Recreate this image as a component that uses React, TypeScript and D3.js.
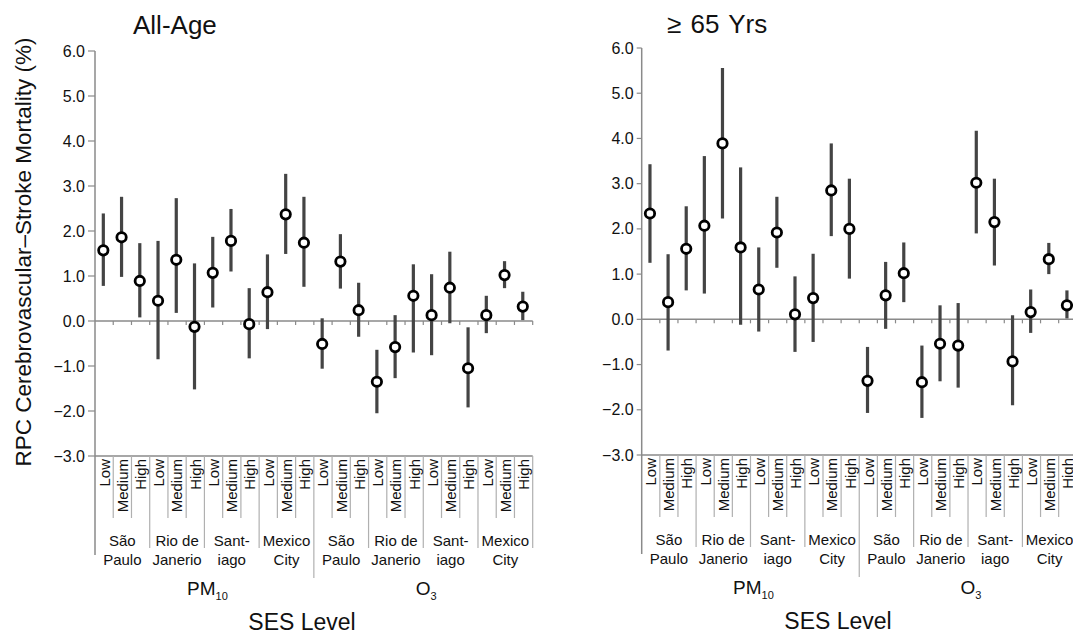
import React from "react";
import * as d3 from "d3";

const sesLevels = ["Low", "Medium", "High"];
const cities = ["São Paulo", "Rio de Janerio", "Santiago", "Mexico City"];
const cityLines = [["São", "Paulo"], ["Rio de", "Janerio"], ["Sant-", "iago"], ["Mexico", "City"]];
const pollutants = ["PM10", "O3"];
const yTicks = [6, 5, 4, 3, 2, 1, 0, -1, -2, -3];

// All-Age: estimate, lower, upper (PM10 x 4 cities x 3 SES, then O3)
const allAgeEst = [1.57, 1.86, 0.89, 0.45, 1.36, -0.13, 1.07, 1.78, -0.07, 0.64, 2.37, 1.74,
  -0.51, 1.32, 0.24, -1.35, -0.58, 0.56, 0.13, 0.74, -1.05, 0.13, 1.02, 0.32];
const allAgeLow = [0.78, 0.98, 0.08, -0.85, 0.18, -1.52, 0.3, 1.1, -0.83, -0.18, 1.49, 0.76,
  -1.06, 0.72, -0.35, -2.05, -1.27, -0.7, -0.76, -0.05, -1.92, -0.27, 0.73, 0.02];
const allAgeHigh = [2.39, 2.76, 1.73, 1.78, 2.73, 1.28, 1.87, 2.49, 0.73, 1.48, 3.27, 2.76,
  0.06, 1.93, 0.85, -0.64, 0.13, 1.26, 1.04, 1.54, -0.14, 0.56, 1.33, 0.65];

// >= 65 years
const elderEst = [2.34, 0.38, 1.56, 2.07, 3.89, 1.59, 0.66, 1.92, 0.11, 0.47, 2.85, 2.0,
  -1.36, 0.53, 1.02, -1.39, -0.54, -0.58, 3.02, 2.15, -0.93, 0.16, 1.33, 0.31];
const elderLow = [1.25, -0.69, 0.64, 0.57, 2.23, -0.12, -0.27, 1.14, -0.72, -0.5, 1.84, 0.9,
  -2.07, -0.21, 0.38, -2.18, -1.37, -1.51, 1.9, 1.19, -1.9, -0.3, 1.0, 0.02];
const elderHigh = [3.43, 1.44, 2.5, 3.61, 5.56, 3.36, 1.59, 2.71, 0.95, 1.45, 3.89, 3.11,
  -0.61, 1.27, 1.7, -0.58, 0.31, 0.36, 4.17, 3.11, 0.09, 0.66, 1.69, 0.64];

const FONT = "'Liberation Sans', Arial, Helvetica, sans-serif";
const axisColor = "#8a8a8a";
const sepColor = "#b0b0b0";

type PanelProps = {
  title: string;
  titleX: number;
  titleY: number;
  x0: number;
  x1: number;
  yTop: number;
  yBottom: number;
  tickLen: number;
  sesX: number;
  est: number[];
  lo: number[];
  hi: number[];
};

function Panel(p: PanelProps) {
  const keys = pollutants.flatMap((pol) =>
    cities.flatMap((c) => sesLevels.map((s) => `${pol}|${c}|${s}`))
  );
  const x = d3.scaleBand().domain(keys).range([p.x0, p.x1]);
  const y = d3.scaleLinear().domain([-3, 6]).range([p.yBottom, p.yTop]);
  const fmt = d3.format(".1f");
  const bw = x.bandwidth();
  const base = y(-3);
  const boundaries = keys.map((k) => x(k) as number).concat([p.x1]);

  return (
    <g fontFamily={FONT}>
      <text x={p.titleX} y={p.titleY} fontSize={26} fill="#111" wordSpacing={2}>
        {p.title}
      </text>

      {/* y axis */}
      <line x1={p.x0} x2={p.x0} y1={y(6)} y2={base} stroke={axisColor} strokeWidth={1.5} />
      {yTicks.map((t) => (
        <g key={t}>
          <line x1={p.x0 - p.tickLen} x2={p.x0} y1={y(t)} y2={y(t)} stroke={axisColor} strokeWidth={1.2} />
          <text x={p.x0 - p.tickLen - 3} y={y(t)} dy="0.35em" textAnchor="end" fontSize={16} fill="#111">
            {fmt(t)}
          </text>
        </g>
      ))}

      {/* zero line with ticks */}
      <line x1={p.x0} x2={p.x1} y1={y(0)} y2={y(0)} stroke={axisColor} strokeWidth={1.5} />
      {boundaries.slice(1).map((bx, i) => (
        <line key={i} x1={bx} x2={bx} y1={y(0)} y2={y(0) + 4} stroke={axisColor} strokeWidth={1.2} />
      ))}

      {/* bottom category box */}
      <line x1={p.x0} x2={p.x1} y1={base} y2={base} stroke={axisColor} strokeWidth={1.5} />
      {boundaries.map((bx, i) => {
        let y2 = base + 62;
        if (i === 0) y2 = base + 99;
        else if (i === 12) y2 = base + 122;
        else if (i % 3 === 0) y2 = base + 92;
        return <line key={i} x1={bx} x2={bx} y1={base} y2={y2} stroke={i === 0 ? axisColor : sepColor} strokeWidth={i === 0 ? 1.5 : 1.2} />;
      })}
      {keys.map((k, i) => {
        const cx = (x(k) as number) + bw / 2;
        return (
          <text key={k} transform={`translate(${cx},${base + 3}) rotate(-90)`} dy="0.36em"
            textAnchor="end" fontSize={15} fill="#111">
            {sesLevels[i % 3]}
          </text>
        );
      })}

      {/* city labels */}
      {keys.filter((_, i) => i % 3 === 0).map((k, gi) => {
        const cx = (x(k) as number) + 1.5 * bw;
        const lines = cityLines[gi % 4];
        return (
          <text key={k} x={cx} textAnchor="middle" fontSize={15} fill="#111">
            <tspan x={cx} y={base + 90}>{lines[0]}</tspan>
            <tspan x={cx} y={base + 109}>{lines[1]}</tspan>
          </text>
        );
      })}

      {/* pollutant labels */}
      {pollutants.map((pol, pi) => {
        const cx = (x(keys[pi * 12]) as number) + 6 * bw;
        const main = pol === "PM10" ? "PM" : "O";
        const sub = pol === "PM10" ? "10" : "3";
        return (
          <text key={pol} x={cx + 3} y={base + 139} textAnchor="middle" fontSize={19} fill="#111">
            {main}
            <tspan fontSize={11} dy={5}>{sub}</tspan>
          </text>
        );
      })}

      <text x={p.sesX} y={base + 174} textAnchor="middle" fontSize={23} fill="#111">
        SES Level
      </text>

      {/* error bars and points */}
      {keys.map((k, i) => {
        const cx = (x(k) as number) + bw / 2 - 0.8;
        return (
          <g key={k}>
            <line x1={cx} x2={cx} y1={y(p.lo[i])} y2={y(p.hi[i])} stroke="#444" strokeWidth={3.2} />
            <circle cx={cx} cy={y(p.est[i])} r={4.7} fill="#fff" stroke="#000" strokeWidth={2.8} />
          </g>
        );
      })}
    </g>
  );
}

export default function App() {
  return (
    <svg width={1073} height={637} style={{ position: "absolute", left: 0, top: 0, background: "#fff" }}>
      <rect width={1073} height={637} fill="#fff" />
      <text transform="translate(31,252) rotate(-90)" textAnchor="middle" fontSize={22.5}
        fontFamily={FONT} fill="#111">
        RPC Cerebrovascular–Stroke Mortality (%)
      </text>
      <Panel title="All-Age" titleX={133} titleY={34} x0={95} x1={532.7} yTop={51} yBottom={456}
        tickLen={7} sesX={302} est={allAgeEst} lo={allAgeLow} hi={allAgeHigh} />
      <Panel title="≥ 65 Yrs" titleX={667} titleY={33} x0={641.7} x1={1076.8} yTop={48} yBottom={455}
        tickLen={5} sesX={838} est={elderEst} lo={elderLow} hi={elderHigh} />
    </svg>
  );
}
